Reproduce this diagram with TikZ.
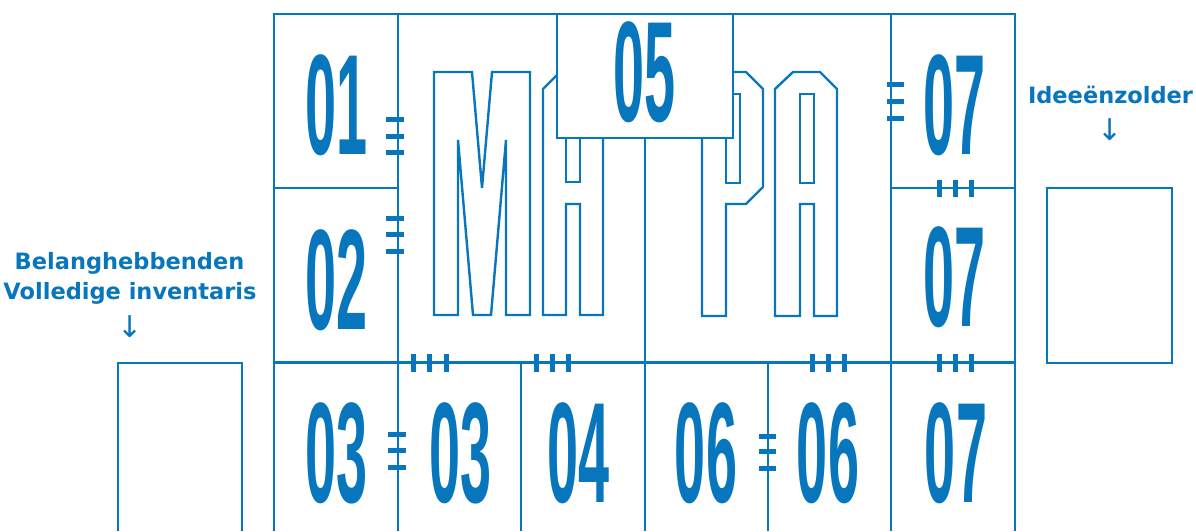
\documentclass[tikz,border=0pt]{standalone}
\usepackage{graphicx}
\usepackage{fontspec}
\setmainfont{DejaVu Sans}
\newfontfamily\digitfont{Liberation Sans}
\definecolor{mblue}{RGB}{8,118,189}
\begin{document}
\begin{tikzpicture}[x=1pt,y=-1pt,
  grid/.style={draw=mblue, line width=2.5pt},
  tickmark/.style={draw=mblue, line width=5pt},
  letter/.style={draw=mblue, line width=2.4pt, line join=miter},
  num/.style={inner sep=0pt, text=mblue, font=\digitfont\bfseries\fontsize{143}{143}\selectfont},
  lab/.style={inner sep=0pt, text=mblue, font=\bfseries\fontsize{22.5}{26}\selectfont},
  arrowlab/.style={inner sep=0pt, text=mblue, font=\fontsize{30}{30}\selectfont}]
\useasboundingbox (0,0) rectangle (1196,531);

% outlined letters M A P A
\draw[letter] (434,72)--(472,72)--(482,188)--(492,72)--(530,72)--(530,315)--(506,315)--(506,140)--(491,315)--(473,315)--(458,140)--(458,315)--(434,315)--cycle;
\draw[letter] (543,89)--(560,72)--(586,72)--(603,89)--(603,315)--(580,315)--(580,204)--(566,204)--(566,315)--(543,315)--cycle;
\draw[letter] (566,94) rectangle (580,182);
\draw[letter] (702,316)--(702,89)--(719,72)--(746,72)--(763,89)--(763,187)--(746,204)--(726,204)--(726,316)--cycle;
\draw[letter] (726,94) rectangle (740,183);
\draw[letter] (775,89)--(793,72)--(820,72)--(837,89)--(837,316)--(814,316)--(814,204)--(800,204)--(800,316)--(775,316)--cycle;
\draw[letter] (800,94) rectangle (814,183);

% grid
\draw[grid] (274,531) -- (274,14) -- (1015,14) -- (1015,531);
\draw[grid] (398,14) -- (398,531);
\draw[grid] (891,14) -- (891,531);
\draw[grid] (274,188) -- (398,188);
\draw[grid] (891,188) -- (1015,188);
\draw[grid] (274,362.5) -- (1015,362.5);
\draw[grid] (645,138) -- (645,531);
\draw[grid] (521,362.5) -- (521,531);
\draw[grid] (768,362.5) -- (768,531);

% side boxes
\draw[grid] (118,531) -- (118,363) -- (242,363) -- (242,531);
\draw[grid] (1047,188) rectangle (1172,363);

% box 05
\draw[grid, fill=white] (557,14) rectangle (733,138);

% ticks
\foreach \y in {119,136,152,218,234,251} \draw[tickmark] (386,\y) -- (404,\y);
\foreach \y in {84,101,118} \draw[tickmark] (887,\y) -- (904,\y);
\foreach \y in {434,450,467} \draw[tickmark] (388,\y) -- (406,\y);
\foreach \y in {436,451,468} \draw[tickmark] (759,\y) -- (776,\y);
\foreach \x in {939,955,971} \draw[tickmark] (\x,180) -- (\x,197);
\foreach \x in {413,429,446,536,552,568,812,828,844,939,955,971} \draw[tickmark] (\x,354) -- (\x,372);

% numbers
\node[num] (n01) at (336.5,105) {\scalebox{0.39}[1]{01}};
\node[num] (n02) at (337,280) {\scalebox{0.39}[1]{02}};
\node[num] (n05) at (644.5,72) {\scalebox{0.39}[1]{05}};
\node[num] (n07a) at (954.5,105) {\scalebox{0.39}[1]{07}};
\node[num] (n07b) at (954.5,277.5) {\scalebox{0.39}[1]{07}};
\node[num] (n03a) at (336.5,453) {\scalebox{0.39}[1]{03}};
\node[num] (n03b) at (461,453) {\scalebox{0.39}[1]{03}};
\node[num] (n04) at (578.5,453) {\scalebox{0.39}[1]{04}};
\node[num] (n06a) at (706,453) {\scalebox{0.39}[1]{06}};
\node[num] (n06b) at (828,453) {\scalebox{0.39}[1]{06}};
\node[num] (n07c) at (956,453) {\scalebox{0.39}[1]{07}};

% labels
\node[lab, anchor=base] (bel) at (129.5,269) {Belanghebbenden};
\node[lab, anchor=base] (vol) at (130,299) {Volledige inventaris};
\node[arrowlab] (arrL) at (130,327) {↓};
\node[lab, anchor=base] (idee) at (1110.5,103) {Ideeënzolder};
\node[arrowlab] (arrR) at (1110,130) {↓};
\end{tikzpicture}
\end{document}
